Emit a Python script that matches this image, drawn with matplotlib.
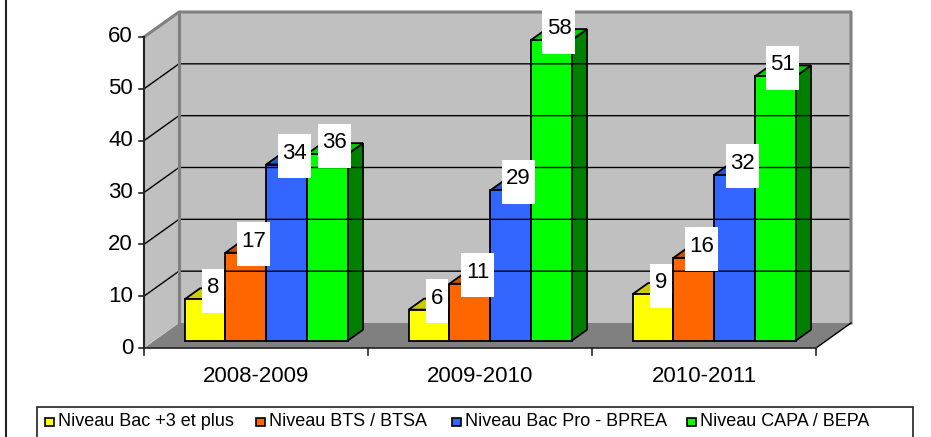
import matplotlib
matplotlib.use("Agg")
import matplotlib.pyplot as plt
from matplotlib.patches import Polygon, Rectangle

plt.rcParams['font.family'] = ['Liberation Sans', 'DejaVu Sans']

# donnees
categories = ['2008-2009', '2009-2010', '2010-2011']
series = ['Niveau Bac +3 et plus', 'Niveau BTS / BTSA',
          'Niveau Bac Pro - BPREA', 'Niveau CAPA / BEPA']
values = [[8, 6, 9],
          [17, 11, 16],
          [34, 29, 32],
          [36, 58, 51]]
y_ticks = [0, 10, 20, 30, 40, 50, 60]

front_cols = ['#FFFF00', '#FF6600', '#3366FF', '#00FF00']
top_cols = ['#CCCC00', '#CC5200', '#2952CC', '#00CC00']
side_cols = ['#808000', '#803300', '#1A3380', '#008000']

# geometrie de la "3D" en pixels
X0, X1 = 144, 816
YB, YT = 348, 37
DX, DY = 35, -25
vmax = y_ticks[-1]
s = (YB - YT) / vmax
D0, D1 = 0.29, 0.73


def proj(x, v, d):
    return (x + DX * d, YB - v * s + DY * d)


fig = plt.figure(figsize=(9.31, 4.37), dpi=100)
ax = fig.add_axes([0, 0, 1, 1])
ax.set_xlim(0, 931)
ax.set_ylim(437, 0)
ax.axis('off')

# cadre gauche
ax.plot([6, 6], [0, 437], color='#222222', lw=1.5)

# murs et sol
ax.add_patch(Polygon([proj(X0, 0, 0), proj(X1, 0, 0), proj(X1, 0, 1), proj(X0, 0, 1)],
                     facecolor='#808080', edgecolor='none'))
ax.add_patch(Polygon([proj(X0, 0, 1), proj(X1, 0, 1), proj(X1, vmax, 1), proj(X0, vmax, 1)],
                     facecolor='#C0C0C0', edgecolor='none'))
ax.add_patch(Polygon([proj(X0, 0, 0), proj(X0, 0, 1), proj(X0, vmax, 1), proj(X0, vmax, 0)],
                     facecolor='#C0C0C0', edgecolor='none'))

# quadrillage
for v in y_ticks[1:-1]:
    pts = [proj(X0, v, 0), proj(X0, v, 1), proj(X1, v, 1)]
    ax.plot([p[0] for p in pts], [p[1] for p in pts], color='black', lw=1)

# bords des murs
pts = [proj(X0, vmax, 0), proj(X0, vmax, 1), proj(X1, vmax, 1), proj(X1, 0, 1)]
ax.plot([p[0] for p in pts], [p[1] for p in pts], color='#808080', lw=2.2)
pts = [proj(X0, 0, 1), proj(X0, vmax, 1)]
ax.plot([p[0] for p in pts], [p[1] for p in pts], color='#808080', lw=2.2)
pts = [proj(X1, 0, 0), proj(X1, 0, 1)]
ax.plot([p[0] for p in pts], [p[1] for p in pts], color='black', lw=1)

# axes
ax.plot([X0, X0], [YB, YT], color='#222222', lw=1.5)
ax.plot([X0, X1], [YB, YB], color='#222222', lw=1.2)
for v in y_ticks:
    y = YB - v * s
    ax.plot([X0 - 5, X0], [y, y], color='#222222', lw=1.2)
    ax.text(X0 - 11, y, str(v), ha='right', va='center', fontsize=16)

cw = (X1 - X0) / len(categories)
for k in range(len(categories) + 1):
    ax.plot([X0 + k * cw] * 2, [YB, YB + 7], color='#222222', lw=1.2)
for i, c in enumerate(categories):
    ax.text(X0 + cw * (i + 0.5), 377, c, ha='center', va='center', fontsize=16)

# barres
bw = cw / 5.5
for i in range(len(categories)):
    cx = X0 + cw * (i + 0.5)
    for j in range(len(series)):
        v = values[j][i]
        l = cx - 2 * bw + j * bw
        r = l + bw
        side = [proj(r, 0, D0), proj(r, 0, D1), proj(r, v, D1), proj(r, v, D0)]
        top = [proj(l, v, D0), proj(r, v, D0), proj(r, v, D1), proj(l, v, D1)]
        front = [proj(l, 0, D0), proj(r, 0, D0), proj(r, v, D0), proj(l, v, D0)]
        for poly, col in ((side, side_cols[j]), (top, top_cols[j]), (front, front_cols[j])):
            ax.add_patch(Polygon(poly, facecolor=col, edgecolor='black',
                                 lw=1.3, joinstyle='miter'))

# etiquettes de valeurs
for i in range(len(categories)):
    cx = X0 + cw * (i + 0.5)
    for j in range(len(series)):
        v = values[j][i]
        l = cx - 2 * bw + j * bw
        tx, ty = proj(l + bw / 2, v, (D0 + D1) / 2)
        ty -= 3
        w = 11.5 * len(str(v)) + 10
        ax.add_patch(Rectangle((tx - w / 2, ty - 22), w, 44, facecolor='white',
                               edgecolor='none', zorder=5))
        ax.text(tx, ty - 3, str(v), ha='center', va='center', fontsize=16, zorder=6)

# legende
ax.add_patch(Rectangle((37, 407), 913 - 37, 40, facecolor='white',
                       edgecolor='#222222', lw=1.2))
leg_x = [45, 256, 452, 687]
for j, name in enumerate(series):
    ax.add_patch(Rectangle((leg_x[j], 417.5), 8.5, 8.5, facecolor=front_cols[j],
                           edgecolor='black', lw=1.2))
    ax.text(leg_x[j] + 13, 421.5, name, ha='left', va='center', fontsize=13)

fig.savefig('out.png', dpi=100)
